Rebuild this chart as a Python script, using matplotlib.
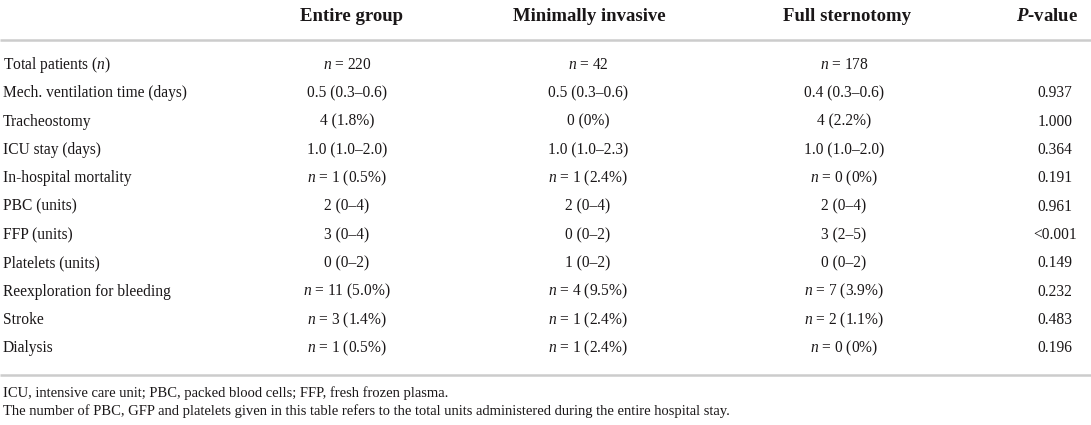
import matplotlib
matplotlib.use("Agg")
import matplotlib.pyplot as plt

plt.rcParams['font.family'] = ['Liberation Serif', 'DejaVu Serif']
plt.rcParams['mathtext.fontset'] = 'custom'
plt.rcParams['mathtext.rm'] = 'Liberation Serif'
plt.rcParams['mathtext.it'] = 'Liberation Serif:italic'
plt.rcParams['mathtext.bf'] = 'Liberation Serif:bold'
plt.rcParams['mathtext.bfit'] = 'Liberation Serif:italic:bold'

headers = ["Entire group", "Minimally invasive", "Full sternotomy", r"$\mathbfit{P}$-value"]
row_labels = [
    "Total patients ($n$)",
    "Mech. ventilation time (days)",
    "Tracheostomy",
    "ICU stay (days)",
    "In-hospital mortality",
    "PBC (units)",
    "FFP (units)",
    "Platelets (units)",
    "Reexploration for bleeding",
    "Stroke",
    "Dialysis",
]
entire_group = ["$n$ = 220", "0.5 (0.3–0.6)", "4 (1.8%)", "1.0 (1.0–2.0)", "$n$ = 1 (0.5%)",
                "2 (0–4)", "3 (0–4)", "0 (0–2)", "$n$ = 11 (5.0%)", "$n$ = 3 (1.4%)", "$n$ = 1 (0.5%)"]
minimally_invasive = ["$n$ = 42", "0.5 (0.3–0.6)", "0 (0%)", "1.0 (1.0–2.3)", "$n$ = 1 (2.4%)",
                      "2 (0–4)", "0 (0–2)", "1 (0–2)", "$n$ = 4 (9.5%)", "$n$ = 1 (2.4%)", "$n$ = 1 (2.4%)"]
full_sternotomy = ["$n$ = 178", "0.4 (0.3–0.6)", "4 (2.2%)", "1.0 (1.0–2.0)", "$n$ = 0 (0%)",
                   "2 (0–4)", "3 (2–5)", "0 (0–2)", "$n$ = 7 (3.9%)", "$n$ = 2 (1.1%)", "$n$ = 0 (0%)"]
p_values = ["", "0.937", "1.000", "0.364", "0.191", "0.961", "<0.001", "0.149", "0.232", "0.483", "0.196"]
footnotes = [
    "ICU, intensive care unit; PBC, packed blood cells; FFP, fresh frozen plasma.",
    "The number of PBC, GFP and platelets given in this table refers to the total units administered during the entire hospital stay.",
]

W, H = 1091, 425
fig = plt.figure(figsize=(W / 100, H / 100), dpi=100)
ax = fig.add_axes([0, 0, 1, 1])
ax.set_xlim(0, W)
ax.set_ylim(H, 0)
ax.axis('off')

txt = '#1a1718'
rule = '#cccccc'
body_fs = 11.2
head_fs = 13.5
foot_fs = 10.55

col_x = [347, 588, 844]
p_x = 1055
head_x = [351, 589, 847, 1047]
label_x = 3
row_y0 = 65
row_dy = 28.35
head_y = 16

for hx, h in zip(head_x, headers):
    ax.text(hx, head_y, h, ha='center', va='center', fontsize=head_fs, fontweight='bold', color=txt)

ax.plot([0, W], [40, 40], color=rule, lw=1.8, solid_capstyle='butt')

columns = [entire_group, minimally_invasive, full_sternotomy]
for i, lab in enumerate(row_labels):
    y = row_y0 + i * row_dy
    ax.text(label_x, y, lab, ha='left', va='center', fontsize=body_fs, color=txt)
    for cx, col in zip(col_x, columns):
        ax.text(cx, y, col[i], ha='center', va='center', fontsize=body_fs, color=txt)
    if p_values[i]:
        ax.text(p_x, y, p_values[i], ha='center', va='center', fontsize=body_fs, color=txt)

ax.plot([0, W], [375, 375], color=rule, lw=1.8, solid_capstyle='butt')

for j, fn in enumerate(footnotes):
    ax.text(label_x, 393 + j * 18, fn, ha='left', va='center', fontsize=foot_fs, color=txt)

fig.savefig('out.png', dpi=100)
